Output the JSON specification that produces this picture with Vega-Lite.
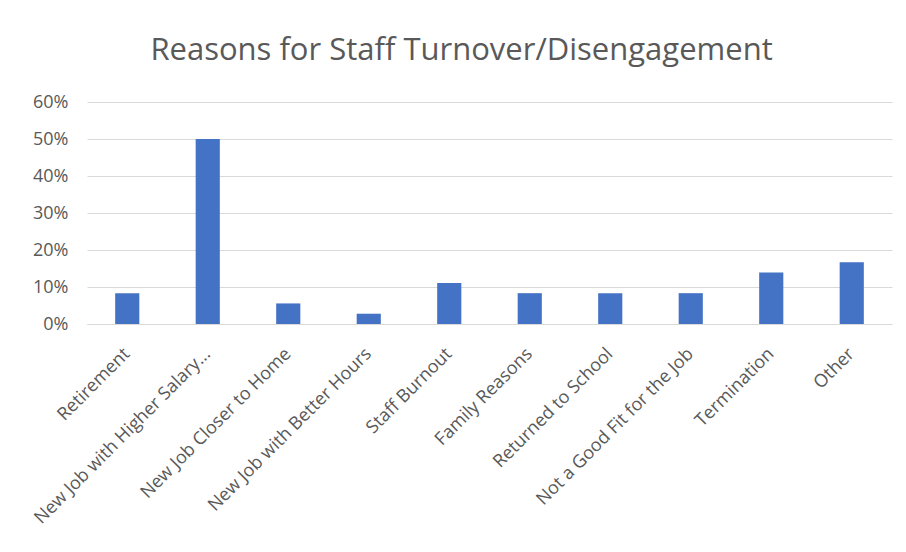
{
  "$schema": "https://vega.github.io/schema/vega-lite/v6.json",
  "autosize": {"type": "none"},
  "padding": {"left": 87, "top": 102, "right": 14, "bottom": 228},
  "width": 805,
  "height": 222,
  "background": "white",
  "title": {
    "text": "Reasons for Staff Turnover/Disengagement",
    "font": "Open Sans",
    "fontSize": 31,
    "fontWeight": "normal",
    "color": "#595959",
    "anchor": "middle",
    "frame": "bounds",
    "offset": 26
  },
  "data": {
    "values": [
      {"reason": "Retirement", "share": 0.0833},
      {"reason": "New Job with Higher Salary...", "share": 0.5},
      {"reason": "New Job Closer to Home", "share": 0.0556},
      {"reason": "New Job with Better Hours", "share": 0.0278},
      {"reason": "Staff Burnout", "share": 0.1111},
      {"reason": "Family Reasons", "share": 0.0833},
      {"reason": "Returned to School", "share": 0.0833},
      {"reason": "Not a Good Fit for the Job", "share": 0.0833},
      {"reason": "Termination", "share": 0.1389},
      {"reason": "Other", "share": 0.1667}
    ]
  },
  "mark": {"type": "bar", "color": "#4472C4"},
  "encoding": {
    "x": {
      "field": "reason",
      "type": "nominal",
      "sort": null,
      "scale": {"paddingInner": 0.7, "paddingOuter": 0.35},
      "axis": {
        "title": null,
        "labelAngle": -45,
        "labelAlign": "right",
        "labelBaseline": "middle",
        "labelFont": "Open Sans",
        "labelFontSize": 18,
        "labelColor": "#595959",
        "labelPadding": 27,
        "labelLimit": 400,
        "ticks": false,
        "domainColor": "#d9d9d9",
        "domainWidth": 1
      }
    },
    "y": {
      "field": "share",
      "type": "quantitative",
      "scale": {"domain": [0, 0.6]},
      "axis": {
        "title": null,
        "format": ".0%",
        "values": [0, 0.1, 0.2, 0.3, 0.4, 0.5, 0.6],
        "labelFont": "Open Sans",
        "labelFontSize": 18,
        "labelColor": "#595959",
        "labelPadding": 19,
        "ticks": false,
        "domain": false,
        "grid": true,
        "gridColor": "#d9d9d9",
        "gridWidth": 1
      }
    }
  },
  "config": {"view": {"stroke": null}}
}
